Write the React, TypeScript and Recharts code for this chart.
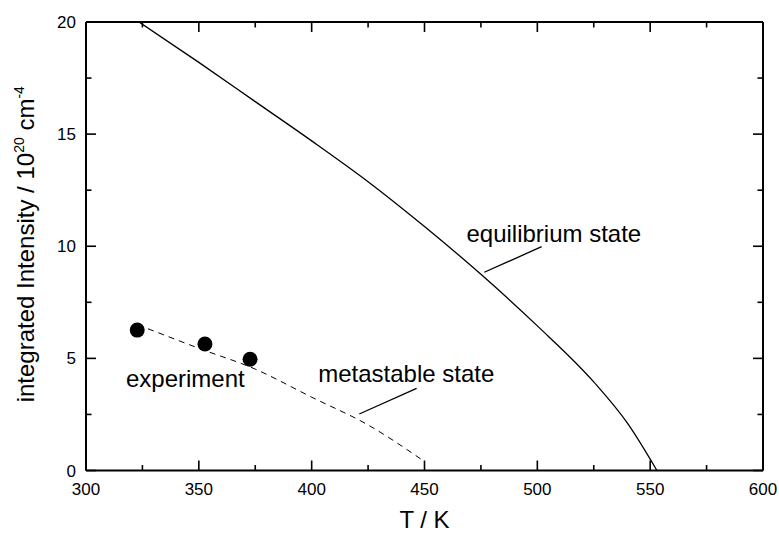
import React from 'react';
import { ComposedChart, Line, Scatter, XAxis, YAxis, ReferenceLine, ReferenceDot } from 'recharts';

// equilibrium state (solid)
const eqT = [323.5, 350, 375, 400, 425, 450, 475, 500, 525, 540, 553];
const eqI = [20, 18.2, 16.45, 14.7, 12.88, 10.88, 8.75, 6.45, 3.95, 2.1, 0];

// metastable state (dashed)
const msT = [327.5, 350, 375, 400, 425, 450];
const msI = [6.32, 5.45, 4.52, 3.27, 2.03, 0.4];

// experiment points
const expT = [322.7, 352.7, 372.7];
const expI = [6.26, 5.64, 4.96];

const xTicks = [300, 325, 350, 375, 400, 425, 450, 475, 500, 525, 550, 575, 600];
const yTicks = [0, 2.5, 5, 7.5, 10, 12.5, 15, 17.5, 20];

const eqData = eqT.map((t, i) => ({ T: t, I: eqI[i] }));
const msData = msT.map((t, i) => ({ T: t, I: msI[i] }));
const expData = expT.map((t, i) => ({ T: t, I: expI[i] }));

const FONT = '"Liberation Sans", Arial, Helvetica, sans-serif';
const MAJOR = 10;
const MINOR = 5.5;

const isMajorX = (v: number) => v % 50 === 0;
const isMajorY = (v: number) => v % 5 === 0;

// ticks point inward; labels only on the bottom/left axes
const BottomTick = (props: any) => {
  const { x, y, payload } = props;
  const major = isMajorX(payload.value);
  return (
    <g>
      <line x1={x} y1={y} x2={x} y2={y - (major ? MAJOR : MINOR)} stroke="#000" strokeWidth={1.6} />
      {major && (
        <text x={x} y={y + 24.5} textAnchor="middle" fontSize={17} fontFamily={FONT} fill="#000">
          {payload.value}
        </text>
      )}
    </g>
  );
};

const TopTick = (props: any) => {
  const { x, y, payload } = props;
  const major = isMajorX(payload.value);
  return <line x1={x} y1={y} x2={x} y2={y + (major ? MAJOR : MINOR)} stroke="#000" strokeWidth={1.6} />;
};

const LeftTick = (props: any) => {
  const { x, y, payload } = props;
  const major = isMajorY(payload.value);
  return (
    <g>
      <line x1={x} y1={y} x2={x + (major ? MAJOR : MINOR)} y2={y} stroke="#000" strokeWidth={1.6} />
      {major && (
        <text x={x - 10} y={y + 6} textAnchor="end" fontSize={17} fontFamily={FONT} fill="#000">
          {payload.value}
        </text>
      )}
    </g>
  );
};

const RightTick = (props: any) => {
  const { x, y, payload } = props;
  const major = isMajorY(payload.value);
  return <line x1={x} y1={y} x2={x - (major ? MAJOR : MINOR)} y2={y} stroke="#000" strokeWidth={1.6} />;
};

const note = (text: string) => (props: any) => {
  const { viewBox } = props;
  return (
    <text x={viewBox.x} y={viewBox.y} fontSize={24} fontFamily={FONT} fill="#000">
      {text}
    </text>
  );
};

const Dot = (props: any) => <circle cx={props.cx} cy={props.cy} r={7.5} fill="#000" />;

export default function App() {
  return (
    <div style={{ position: 'absolute', left: 0, top: 0, width: 779, height: 533, background: '#fff' }}>
      <ComposedChart width={779} height={533} margin={{ top: 21, right: 15, bottom: 61.5, left: 85 }}>
        <XAxis
          xAxisId="b"
          type="number"
          dataKey="T"
          domain={[300, 600]}
          ticks={xTicks}
          interval={0}
          height={1}
          tickSize={0}
          tickMargin={0}
          tickLine={false}
          tick={<BottomTick />}
          axisLine={{ stroke: '#000', strokeWidth: 2 }}
          allowDataOverflow
          label={{
            content: (p: any) => (
              <text
                x={p.viewBox.x + p.viewBox.width / 2}
                y={p.viewBox.y + 57}
                textAnchor="middle"
                fontSize={24}
                fontFamily={FONT}
                fill="#000"
              >
                T / K
              </text>
            ),
          }}
        />
        <XAxis
          xAxisId="t"
          orientation="top"
          type="number"
          dataKey="T"
          domain={[300, 600]}
          ticks={xTicks}
          interval={0}
          height={1}
          tickSize={0}
          tickMargin={0}
          tickLine={false}
          tick={<TopTick />}
          axisLine={{ stroke: '#000', strokeWidth: 2 }}
          allowDataOverflow
        />
        <YAxis
          yAxisId="l"
          type="number"
          domain={[0, 20]}
          ticks={yTicks}
          interval={0}
          width={1}
          tickSize={0}
          tickMargin={0}
          tickLine={false}
          tick={<LeftTick />}
          axisLine={{ stroke: '#000', strokeWidth: 2 }}
          allowDataOverflow
          label={{
            content: (p: any) => {
              const cx = p.viewBox.x + p.viewBox.width - 52;
              const cy = p.viewBox.y + p.viewBox.height / 2 - 2;
              return (
                <text
                  x={cx}
                  y={cy}
                  transform={`rotate(-90 ${cx} ${cy})`}
                  textAnchor="middle"
                  fontSize={24}
                  fontFamily={FONT}
                  fill="#000"
                >
                  integrated Intensity / 10
                  <tspan dy={-10} fontSize={14}>20</tspan>
                  <tspan dy={10}> cm</tspan>
                  <tspan dy={-10} fontSize={14}>-4</tspan>
                </text>
              );
            },
          }}
        />
        <YAxis
          yAxisId="r"
          orientation="right"
          type="number"
          domain={[0, 20]}
          ticks={yTicks}
          interval={0}
          width={1}
          tickSize={0}
          tickMargin={0}
          tickLine={false}
          tick={<RightTick />}
          axisLine={{ stroke: '#000', strokeWidth: 2 }}
          allowDataOverflow
        />

        <Line
          xAxisId="b"
          yAxisId="l"
          data={eqData}
          dataKey="I"
          type="monotone"
          stroke="#000"
          strokeWidth={1.3}
          dot={false}
          activeDot={false}
          isAnimationActive={false}
        />
        <Line
          xAxisId="b"
          yAxisId="l"
          data={msData}
          dataKey="I"
          type="monotone"
          stroke="#000"
          strokeWidth={1}
          strokeDasharray="6 5"
          dot={false}
          activeDot={false}
          isAnimationActive={false}
        />
        <Scatter
          xAxisId="b"
          yAxisId="l"
          data={expData}
          dataKey="I"
          fill="#000"
          shape={<Dot />}
          isAnimationActive={false}
        />

        {/* callout lines */}
        <ReferenceLine
          xAxisId="b"
          yAxisId="l"
          segment={[{ x: 501.9, y: 9.98 }, { x: 476.5, y: 8.84 }]}
          stroke="#000"
          strokeWidth={1.3}
        />
        <ReferenceLine
          xAxisId="b"
          yAxisId="l"
          segment={[{ x: 446.5, y: 3.66 }, { x: 421.1, y: 2.52 }]}
          stroke="#000"
          strokeWidth={1.3}
        />

        {/* annotations, anchored at the text baseline start */}
        <ReferenceDot xAxisId="b" yAxisId="l" x={468.6} y={10.2} r={0} stroke="none" fill="none" label={{ content: note('equilibrium state') }} />
        <ReferenceDot xAxisId="b" yAxisId="l" x={402.9} y={3.96} r={0} stroke="none" fill="none" label={{ content: note('metastable state') }} />
        <ReferenceDot xAxisId="b" yAxisId="l" x={317.7} y={3.74} r={0} stroke="none" fill="none" label={{ content: note('experiment') }} />
      </ComposedChart>
    </div>
  );
}
